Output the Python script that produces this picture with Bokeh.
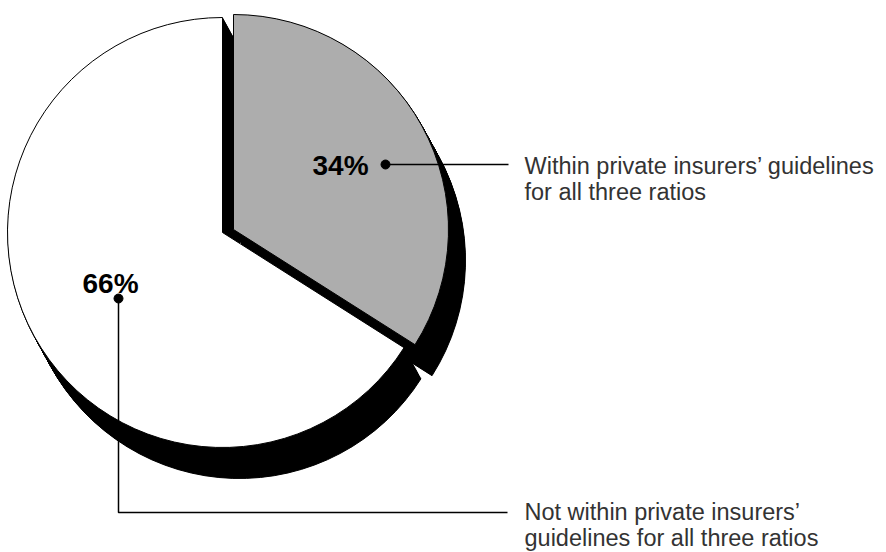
import numpy as np
from bokeh.plotting import figure
from bokeh.models import Range1d
from bokeh.embed import file_html
from bokeh.resources import INLINE
from bokeh.core.properties import value

# ---- data ----
categories = ["Within private insurers’ guidelines for all three ratios",
              "Not within private insurers’ guidelines for all three ratios"]
shares = [34, 66]
pct_labels = ["34%", "66%"]
desc_lines = [["Within private insurers’ guidelines", "for all three ratios"],
              ["Not within private insurers’", "guidelines for all three ratios"]]
colors = ["#adadad", "#ffffff"]

W, H = 886, 552
def sy(y):  # screen y -> data y
    return H - y

p = figure(width=W, height=H, x_range=Range1d(0, W), y_range=Range1d(0, H),
           output_backend="svg", toolbar_location=None, min_border=0)
p.axis.visible = False
p.grid.visible = False
p.outline_line_color = None
p.background_fill_color = "white"
p.border_fill_color = "white"

# angles: first slice starts at 12 o'clock going clockwise
fr = np.array(shares, dtype=float) / sum(shares)
ends = np.pi / 2 - np.concatenate([[0], np.cumsum(fr)[:-1]]) * 2 * np.pi
starts = ends - fr * 2 * np.pi

R = 215
base = (222, 232)            # screen centre of pie
explode = [(11, -3), (0, 0)]  # screen offsets per slice
cx = [base[0] + e[0] for e in explode]
cy = [sy(base[1] + e[1]) for e in explode]

# extruded black shadow
N = 34
dx, dy = 17, 31
for i in range(len(shares)):
    ks = np.arange(1, N + 1) / N
    p.wedge(x=cx[i] + ks * dx, y=cy[i] - ks * dy, radius=R,
            start_angle=starts[i], end_angle=ends[i],
            fill_color="black", line_color="black", line_width=1)

# slices
for i in range(len(shares)):
    p.wedge(x=[cx[i]], y=[cy[i]], radius=R, start_angle=starts[i], end_angle=ends[i],
            fill_color=colors[i], line_color="black", line_width=1)

# percent labels
p.text(x=[312, 82], y=[sy(165), sy(283)], text=pct_labels,
       text_font=value("Liberation Sans"), text_font_style="bold",
       text_font_size="28px", text_color="black", text_baseline="middle",
       text_align="left")

# leader lines and dots
p.line(x=[385, 508], y=[sy(164), sy(164)], line_color="black", line_width=1.5)
p.line(x=[118, 118, 507], y=[sy(298), sy(512), sy(512)], line_color="black", line_width=1.5)
p.scatter(x=[385, 118], y=[sy(164), sy(298)], size=9, marker="circle",
          fill_color="black", line_color="black")

# descriptions
xs, ys, ts = [], [], []
for (c0, lines) in zip([165, 511], desc_lines):
    for j, t in enumerate(lines):
        xs.append(524); ys.append(sy(c0 + 26 * j)); ts.append(t)
p.text(x=xs, y=ys, text=ts, text_font=value("Liberation Sans"),
       text_font_size="23.5px", text_color="#333333", text_baseline="middle",
       text_align="left")

open("out.html", "w").write(file_html(p, INLINE))
